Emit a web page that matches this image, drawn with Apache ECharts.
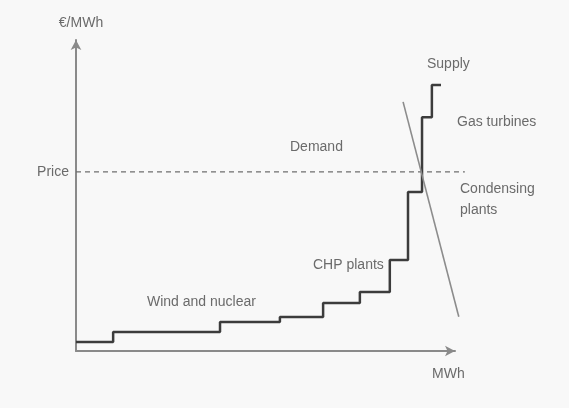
<!DOCTYPE html>
<html>
<head>
<meta charset="utf-8">
<script src="https://cdn.jsdelivr.net/npm/echarts@6/dist/echarts.min.js"></script>
<style>
  html, body { margin: 0; padding: 0; background: #f8f8f8; }
  #chart { width: 569px; height: 408px; }
</style>
</head>
<body>
<div id="chart"></div>
<script>
// supply curve: merit order steps (MWh on x, €/MWh on y, arbitrary units 0-100)
const supplyMWh = [0, 9.8, 38, 53.8, 65.2, 74.9, 82.8, 87.6, 91.3, 93.9, 96.3];
const supplyPrice = [2.9, 6.1, 9.3, 10.9, 15.4, 19, 29.3, 51.1, 75.2, 85.5, 85.5];

// demand line
const demandMWh = [86.3, 101];
const demandPrice = [80.1, 11];

// market clearing price (dashed)
const priceMWh = [0, 102.6];
const clearingPrice = 57.6;

const textColor = '#6b6b6b';
const font = 'Liberation Sans, Arial, sans-serif';

const chart = echarts.init(document.getElementById('chart'));

function txt(text, x, y, align) {
  return {
    type: 'text', x: x, y: y,
    style: {
      text: text, fill: textColor, font: '14px ' + font,
      textAlign: align || 'left', textVerticalAlign: 'middle'
    }
  };
}

const axisStyle = { color: '#8a8a8a', width: 2 };

const option = {
  backgroundColor: '#f8f8f8',
  animation: false,
  // grid 0 carries the visible axes, grid 1 the data (same scale, a bit wider so the
  // dashed price line and the demand line can run past the arrow)
  grid: [
    { left: 76, top: 40, right: 114, bottom: 57 },
    { left: 76, top: 40, right: 103, bottom: 57 }
  ],
  xAxis: [
    {
      gridIndex: 0, type: 'value', min: 0, max: 100,
      name: 'MWh', nameLocation: 'end', nameGap: -23,
      nameTextStyle: { color: textColor, fontSize: 14, fontFamily: font, verticalAlign: 'top', padding: [16, 0, 0, 0] },
      axisLine: { lineStyle: axisStyle, symbol: ['none', 'arrow'], symbolSize: [8, 10] },
      axisTick: { show: false }, axisLabel: { show: false }, splitLine: { show: false }
    },
    { gridIndex: 1, type: 'value', min: 0, max: 390 / 3.79, show: false, splitLine: { show: false } }
  ],
  yAxis: [
    {
      gridIndex: 0, type: 'value', min: 0, max: 100,
      name: '€/MWh', nameLocation: 'end', nameGap: 10,
      nameTextStyle: { color: textColor, fontSize: 14, fontFamily: font, padding: [0, 0, 0, 10] },
      axisLine: { show: true, lineStyle: axisStyle, symbol: ['none', 'arrow'], symbolSize: [8, 10] },
      axisTick: { show: false }, axisLabel: { show: false }, splitLine: { show: false }
    },
    { gridIndex: 1, type: 'value', min: 0, max: 100, show: false, splitLine: { show: false } }
  ],
  series: [
    {
      name: 'Price',
      type: 'line',
      xAxisIndex: 1, yAxisIndex: 1,
      data: priceMWh.map(x => [x, clearingPrice]),
      symbol: 'none',
      lineStyle: { color: '#6e6e6e', width: 1.2, type: [5, 4] }
    },
    {
      name: 'Supply',
      type: 'line',
      xAxisIndex: 1, yAxisIndex: 1,
      step: 'end',
      data: supplyMWh.map((x, i) => [x, supplyPrice[i]]),
      symbol: 'none',
      lineStyle: { color: '#3c3c3c', width: 2.5 }
    },
    {
      name: 'Demand',
      type: 'line',
      xAxisIndex: 1, yAxisIndex: 1,
      data: demandMWh.map((x, i) => [x, demandPrice[i]]),
      symbol: 'none',
      lineStyle: { color: '#8c8c8c', width: 1.6 }
    }
  ],
  graphic: [
    txt('Price', 69, 172, 'right'),
    txt('Demand', 290, 147),
    txt('Supply', 427, 64),
    txt('Gas turbines', 457, 122),
    txt('Condensing', 460, 189),
    txt('plants', 460, 210),
    txt('CHP plants', 313, 265),
    txt('Wind and nuclear', 147, 302)
  ]
};

chart.setOption(option);
</script>
</body>
</html>
